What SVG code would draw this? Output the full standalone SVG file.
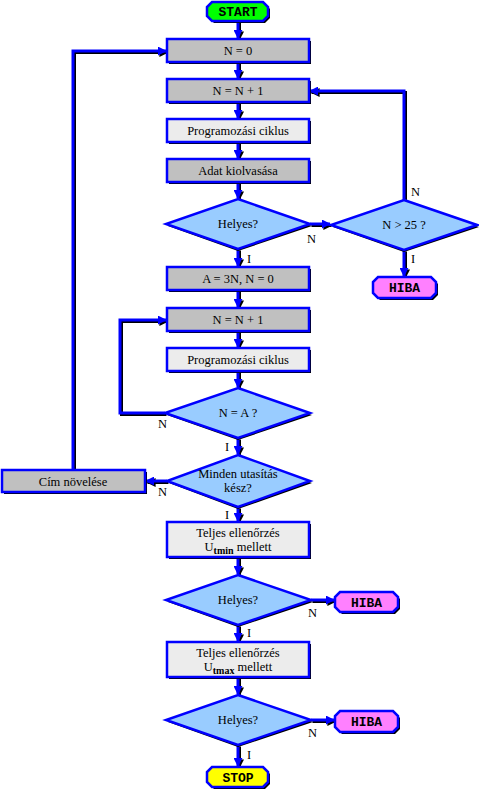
<svg xmlns="http://www.w3.org/2000/svg" width="479" height="791" viewBox="0 0 479 791">
<style>
.sh{fill:#000}
.box{stroke:#0000ff;stroke-width:2.5}
.g1{fill:#c0c0c0}
.g2{fill:#ececec}
.dia{fill:#99ccff;stroke:#0000ff;stroke-width:2.5}
.term{stroke:#0000ff;stroke-width:2.5}
.t{font-family:"Liberation Serif","Times New Roman",serif;font-size:12.5px;fill:#000;text-anchor:middle}
.tt{font-family:"Liberation Mono","Courier New",monospace;font-size:13px;font-weight:bold;fill:#000;text-anchor:middle}
.lb{font-family:"Liberation Serif","Times New Roman",serif;font-size:12.5px;fill:#000}
.ln{fill:none;stroke:#0000ff;stroke-width:3}
.lns{fill:none;stroke:#000;stroke-width:3}
</style>
<defs>
<marker id="a" viewBox="0 0 10 10" refX="9" refY="5" markerWidth="9" markerHeight="9" markerUnits="userSpaceOnUse" orient="auto"><path d="M0,0 L10,5 L0,10 Z" fill="#0000ff"/></marker>
<marker id="as" viewBox="0 0 10 10" refX="9" refY="5" markerWidth="9" markerHeight="9" markerUnits="userSpaceOnUse" orient="auto"><path d="M0,0 L10,5 L0,10 Z" fill="#000"/></marker>
</defs>
<g id="connectors">
<g transform="translate(1.5,1.5)">
<path class="lns" marker-end="url(#as)" d="M238,21 V38"/>
<path class="lns" marker-end="url(#as)" d="M238,62 V78"/>
<path class="lns" marker-end="url(#as)" d="M238,102 V118"/>
<path class="lns" marker-end="url(#as)" d="M238,142 V158"/>
<path class="lns" marker-end="url(#as)" d="M238,182 V198"/>
<path class="lns" marker-end="url(#as)" d="M238,249 V266"/>
<path class="lns" marker-end="url(#as)" d="M238,290 V307"/>
<path class="lns" marker-end="url(#as)" d="M238,331 V347"/>
<path class="lns" marker-end="url(#as)" d="M238,371 V387"/>
<path class="lns" marker-end="url(#as)" d="M238,438 V454"/>
<path class="lns" marker-end="url(#as)" d="M238,507 V521"/>
<path class="lns" marker-end="url(#as)" d="M238,557 V574"/>
<path class="lns" marker-end="url(#as)" d="M238,625 V641"/>
<path class="lns" marker-end="url(#as)" d="M238,677 V694"/>
<path class="lns" marker-end="url(#as)" d="M238,745 V766"/>
<path class="lns" marker-end="url(#as)" d="M310,224 H330"/>
<path class="lns" marker-end="url(#as)" d="M404,200 V91 H310"/>
<path class="lns" marker-end="url(#as)" d="M404,250 V276"/>
<path class="lns" marker-end="url(#as)" d="M165,413 H120 V320 H166"/>
<path class="lns" marker-end="url(#as)" d="M167,481 H146"/>
<path class="lns" marker-end="url(#as)" d="M73,470 V51 H166"/>
<path class="lns" marker-end="url(#as)" d="M311,600 H334"/>
<path class="lns" marker-end="url(#as)" d="M311,720 H334"/>
</g>
<path class="ln" marker-end="url(#a)" d="M238,21 V38"/>
<path class="ln" marker-end="url(#a)" d="M238,62 V78"/>
<path class="ln" marker-end="url(#a)" d="M238,102 V118"/>
<path class="ln" marker-end="url(#a)" d="M238,142 V158"/>
<path class="ln" marker-end="url(#a)" d="M238,182 V198"/>
<path class="ln" marker-end="url(#a)" d="M238,249 V266"/>
<path class="ln" marker-end="url(#a)" d="M238,290 V307"/>
<path class="ln" marker-end="url(#a)" d="M238,331 V347"/>
<path class="ln" marker-end="url(#a)" d="M238,371 V387"/>
<path class="ln" marker-end="url(#a)" d="M238,438 V454"/>
<path class="ln" marker-end="url(#a)" d="M238,507 V521"/>
<path class="ln" marker-end="url(#a)" d="M238,557 V574"/>
<path class="ln" marker-end="url(#a)" d="M238,625 V641"/>
<path class="ln" marker-end="url(#a)" d="M238,677 V694"/>
<path class="ln" marker-end="url(#a)" d="M238,745 V766"/>
<path class="ln" marker-end="url(#a)" d="M310,224 H330"/>
<path class="ln" marker-end="url(#a)" d="M404,200 V91 H310"/>
<path class="ln" marker-end="url(#a)" d="M404,250 V276"/>
<path class="ln" marker-end="url(#a)" d="M165,413 H120 V320 H166"/>
<path class="ln" marker-end="url(#a)" d="M167,481 H146"/>
<path class="ln" marker-end="url(#a)" d="M73,470 V51 H166"/>
<path class="ln" marker-end="url(#a)" d="M311,600 H334"/>
<path class="ln" marker-end="url(#a)" d="M311,720 H334"/>
<text class="lb" x="247" y="263">I</text>
<text class="lb" x="307" y="243">N</text>
<text class="lb" x="411" y="196">N</text>
<text class="lb" x="411" y="263">I</text>
<text class="lb" x="158" y="428">N</text>
<text class="lb" x="225" y="451">I</text>
<text class="lb" x="158" y="496">N</text>
<text class="lb" x="225" y="519">I</text>
<text class="lb" x="308" y="617">N</text>
<text class="lb" x="247" y="637">I</text>
<text class="lb" x="308" y="737">N</text>
<text class="lb" x="247" y="759">I</text>
</g>
<g id="start">
<path class="sh" d="M214,4 H265 L270,9 V18 L265,23 H214 L209,18 V9 Z"/>
<path class="term" fill="#00ff00" d="M212,2 H263 L268,7 V16 L263,21 H212 L207,16 V7 Z"/>
<text class="tt" x="238" y="16">START</text>
</g>
<g id="n0">
<rect class="sh" x="169" y="41" width="142" height="23"/>
<rect class="box g1" x="167" y="39" width="142" height="23"/>
<text class="t" x="238" y="55">N = 0</text>
</g>
<g id="nn1">
<rect class="sh" x="169" y="81" width="142" height="23"/>
<rect class="box g1" x="167" y="79" width="142" height="23"/>
<text class="t" x="238" y="95">N = N + 1</text>
</g>
<g id="prog1">
<rect class="sh" x="169" y="121" width="142" height="23"/>
<rect class="box g2" x="167" y="119" width="142" height="23"/>
<text class="t" x="238" y="135">Programozási ciklus</text>
</g>
<g id="adat">
<rect class="sh" x="169" y="161" width="142" height="23"/>
<rect class="box g1" x="167" y="159" width="142" height="23"/>
<text class="t" x="238" y="175">Adat kiolvasása</text>
</g>
<g id="helyes1">
<polygon class="sh" points="238,201 312,226 238,251 168,226"/>
<polygon class="dia" points="238,199 310,224 238,249 166,224"/>
<text class="t" x="238" y="228">Helyes?</text>
</g>
<g id="n25">
<polygon class="sh" points="404,202 479,227 404,252 333,227"/>
<polygon class="dia" points="404,200 477,225 404,250 331,225"/>
<text class="t" x="404" y="229">N &gt; 25 ?</text>
</g>
<g id="hiba1">
<path class="sh" d="M380,279 H433 L438,284 V295 L433,300 H380 L375,295 V284 Z"/>
<path class="term" fill="#ff80ff" d="M378,277 H431 L436,282 V293 L431,298 H378 L373,293 V282 Z"/>
<text class="tt" x="404.5" y="292">HIBA</text>
</g>
<g id="a3n">
<rect class="sh" x="169" y="269" width="142" height="23"/>
<rect class="box g1" x="167" y="267" width="142" height="23"/>
<text class="t" x="238" y="283">A = 3N,  N = 0</text>
</g>
<g id="nn2">
<rect class="sh" x="169" y="310" width="142" height="23"/>
<rect class="box g1" x="167" y="308" width="142" height="23"/>
<text class="t" x="238" y="324">N = N + 1</text>
</g>
<g id="prog2">
<rect class="sh" x="169" y="350" width="142" height="23"/>
<rect class="box g2" x="167" y="348" width="142" height="23"/>
<text class="t" x="238" y="364">Programozási ciklus</text>
</g>
<g id="na">
<polygon class="sh" points="238,390 312,415 238,440 167,415"/>
<polygon class="dia" points="238,388 310,413 238,438 165,413"/>
<text class="t" x="238" y="417">N = A ?</text>
</g>
<g id="minden">
<polygon class="sh" points="238,457 312,483 238,509 169,483"/>
<polygon class="dia" points="238,455 310,481 238,507 167,481"/>
<text class="t" x="238" y="478">Minden utasítás</text>
<text class="t" x="238" y="492">kész?</text>
</g>
<g id="cim">
<rect class="sh" x="4" y="472" width="143" height="22"/>
<rect class="box g1" x="2" y="470" width="143" height="22"/>
<text class="t" x="73" y="486">Cím növelése</text>
</g>
<g id="teljes1">
<rect class="sh" x="169" y="524" width="142" height="35"/>
<rect class="box g2" x="167" y="522" width="142" height="35"/>
<text class="t" x="238" y="537">Teljes ellenőrzés</text>
<text class="t" x="238" y="551">U<tspan font-size="10" font-weight="bold" dy="3">tmin</tspan><tspan dy="-3"> mellett</tspan></text>
</g>
<g id="helyes2">
<polygon class="sh" points="238,577 313,602 238,627 168,602"/>
<polygon class="dia" points="238,575 311,600 238,625 166,600"/>
<text class="t" x="238" y="604">Helyes?</text>
</g>
<g id="hiba2">
<path class="sh" d="M342,594 H395 L400,599 V609 L395,614 H342 L337,609 V599 Z"/>
<path class="term" fill="#ff80ff" d="M340,592 H393 L398,597 V607 L393,612 H340 L335,607 V597 Z"/>
<text class="tt" x="366.5" y="606.5">HIBA</text>
</g>
<g id="teljes2">
<rect class="sh" x="169" y="644" width="142" height="35"/>
<rect class="box g2" x="167" y="642" width="142" height="35"/>
<text class="t" x="238" y="657">Teljes ellenőrzés</text>
<text class="t" x="238" y="671">U<tspan font-size="10" font-weight="bold" dy="3">tmax</tspan><tspan dy="-3"> mellett</tspan></text>
</g>
<g id="helyes3">
<polygon class="sh" points="238,697 313,722 238,747 168,722"/>
<polygon class="dia" points="238,695 311,720 238,745 166,720"/>
<text class="t" x="238" y="724">Helyes?</text>
</g>
<g id="hiba3">
<path class="sh" d="M342,713 H395 L400,718 V729 L395,734 H342 L337,729 V718 Z"/>
<path class="term" fill="#ff80ff" d="M340,711 H393 L398,716 V727 L393,732 H340 L335,727 V716 Z"/>
<text class="tt" x="366.5" y="726">HIBA</text>
</g>
<g id="stop">
<path class="sh" d="M214,769 H265 L270,774 V784 L265,789 H214 L209,784 V774 Z"/>
<path class="term" fill="#ffff00" d="M212,767 H263 L268,772 V782 L263,787 H212 L207,782 V772 Z"/>
<text class="tt" x="238" y="781.5">STOP</text>
</g>
</svg>
